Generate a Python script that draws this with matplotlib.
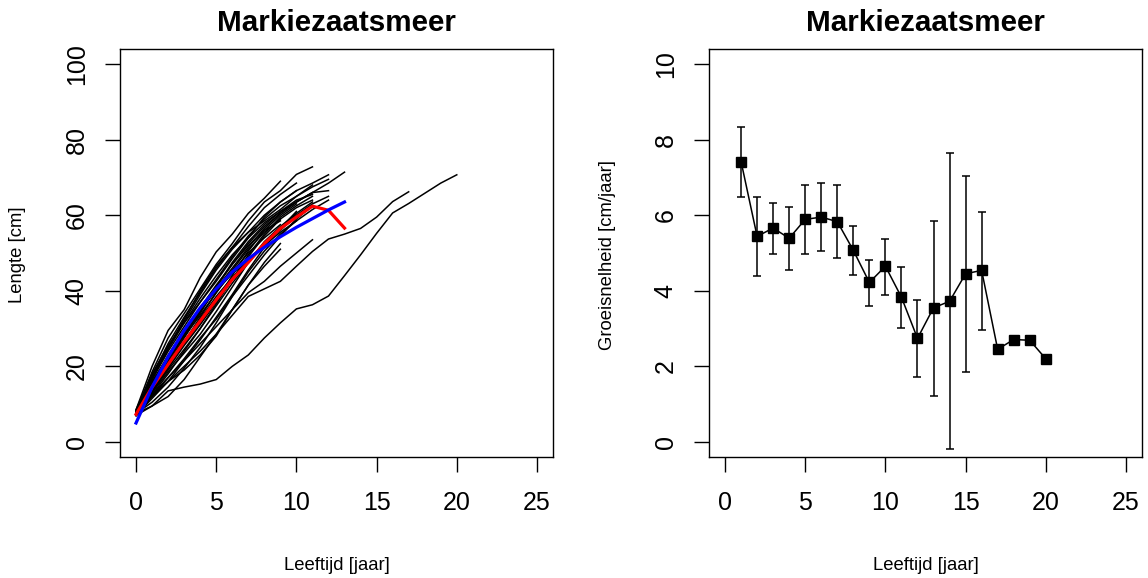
import matplotlib
matplotlib.use("Agg")
import matplotlib.pyplot as plt

plt.rcParams['font.family'] = ['Liberation Sans', 'DejaVu Sans']

# terugberekende lengtes per individu (cm), vanaf leeftijd 0
curves = [
    [8.5, 20.0, 29.5, 35.0, 43.5, 50.3, 55.0, 60.5, 64.5, 69.0],
    [8.0, 18.5, 27.5, 34.0, 40.5, 47.0, 52.5, 58.5, 63.5, 66.5, 70.8, 72.8],
    [7.5, 17.0, 25.0, 32.0, 39.0, 45.5, 51.0, 55.5, 60.0, 63.5, 66.5, 68.5, 70.7],
    [8.0, 16.5, 24.0, 30.5, 37.0, 43.0, 49.0, 54.5, 59.0, 62.5, 65.0, 67.5, 69.5],
    [7.5, 15.0, 22.0, 28.5, 34.5, 40.5, 46.0, 51.5, 56.5, 60.5, 63.5, 66.0, 68.5, 71.4],
    [8.0, 17.5, 26.0, 33.0, 39.5, 46.0, 51.5, 57.0, 62.0, 65.5, 68.5],
    [7.0, 14.5, 21.0, 27.5, 34.0, 41.0, 47.5, 53.0, 57.5, 61.0, 63.5, 66.0, 66.5],
    [7.5, 13.5, 19.5, 25.5, 31.0, 37.0, 43.0, 49.5, 55.0, 59.5, 62.5, 65.0],
    [8.0, 15.5, 23.0, 29.5, 35.5, 41.5, 47.0, 52.5, 57.0, 60.5, 63.5, 66.0],
    [7.0, 12.5, 18.0, 24.0, 30.0, 36.5, 43.0, 49.0, 54.5, 59.0, 62.0, 64.0],
    [7.5, 14.0, 20.5, 26.0, 31.5, 37.5, 44.0, 50.5, 56.0, 60.0, 63.0],
    [8.5, 18.0, 25.5, 31.5, 37.0, 42.5, 48.5, 54.0, 59.5, 63.5, 66.5],
    [7.0, 11.5, 16.0, 21.5, 27.0, 33.0, 39.0, 45.5, 51.5, 56.5, 60.5, 63.5],
    [7.5, 13.0, 18.5, 23.5, 28.5, 34.5, 41.0, 47.5, 53.0, 57.0, 60.5],
    [8.0, 16.0, 22.5, 28.0, 33.5, 39.5, 45.5, 51.0, 55.5, 59.0],
    [7.0, 12.0, 17.0, 22.0, 27.5, 32.5, 38.5, 44.0, 49.5, 54.5, 59.0, 62.5],
    [7.5, 15.5, 22.5, 29.0, 35.0, 40.0, 44.5, 48.5, 52.0, 56.5, 61.0],
    [8.0, 14.0, 20.0, 26.5, 33.0, 39.5, 45.0, 50.0, 54.0, 57.5],
    [7.5, 12.5, 17.0, 21.5, 26.0, 30.5, 35.0, 39.5, 42.5, 46.5, 50.0, 53.5],
    [7.5, 13.5, 19.0, 24.5, 30.0, 36.0, 42.0, 47.5, 52.0, 55.5, 58.5, 61.5, 64.0],
    [8.0, 16.5, 24.5, 31.5, 38.0, 44.0, 49.5, 54.0, 58.0, 61.0, 64.0, 65.5],
    [7.0, 13.0, 19.5, 26.0, 32.5, 38.5, 43.5, 48.0, 52.5, 56.0, 60.0, 63.0, 65.0],
    [8.0, 12.5, 16.0, 19.0, 23.0, 28.0, 35.0, 41.5, 47.5, 52.5],
    [7.5, 10.5, 14.5, 19.5, 25.0, 31.5, 38.5, 45.0, 50.5, 55.0, 58.5],
    [7.0, 9.5, 12.0, 16.5, 22.5, 28.5, 35.0, 41.5, 46.5, 51.0],
    [8.0, 17.0, 25.0, 32.5, 40.0, 46.5, 51.5, 55.5, 58.5, 61.5, 65.0, 68.0],
    [7.5, 14.5, 21.5, 28.0, 34.5, 41.0, 47.0, 52.0, 56.0, 58.5],
    [7.5, 12.0, 16.0, 20.0, 24.0, 28.5, 33.5, 38.5, 40.5, 42.5, 46.5, 50.4,
     53.7, 55.0, 56.5, 59.5, 63.6, 66.2],
    [7.5, 9.5, 13.5, 14.5, 15.3, 16.5, 20.0, 23.0, 27.5, 31.5, 35.2, 36.3,
     38.6, 44.0, 49.5, 55.2, 60.6, 63.1, 65.8, 68.5, 70.7],
]

# gemiddelde lengte per leeftijd (rood) en groeicurve (blauw)
mean_len = [7.3, 14.5, 20.5, 26.5, 32.0, 37.6, 43.0, 47.5, 52.5, 56.5, 59.5, 62.4, 61.3, 56.6]
fit_len = [5.0, 14.5, 22.5, 29.5, 35.5, 40.5, 45.0, 48.5, 51.5, 54.3, 56.8, 59.1, 61.4, 63.5]

# groeisnelheid per leeftijd met spreiding
growth_age = list(range(1, 21))
growth = [7.42, 5.44, 5.66, 5.39, 5.89, 5.95, 5.83, 5.07, 4.22, 4.65,
          3.83, 2.74, 3.55, 3.72, 4.45, 4.54, 2.45, 2.71, 2.69, 2.20]
growth_hi = [8.34, 6.48, 6.33, 6.21, 6.79, 6.85, 6.80, 5.71, 4.81, 5.38,
             4.63, 3.75, 5.86, 7.64, 7.04, 6.09]
growth_lo = [6.48, 4.38, 4.98, 4.54, 4.98, 5.04, 4.88, 4.42, 3.60, 3.88,
             3.02, 1.72, 1.21, -0.19, 1.84, 2.96]

W, H = 1148, 578
fig = plt.figure(figsize=(W / 100, H / 100), dpi=100)
ax1 = fig.add_axes([120 / W, 1 - 457 / H, 433 / W, 408 / H])
ax2 = fig.add_axes([709 / W, 1 - 457 / H, 433 / W, 408 / H])

for c in curves:
    ax1.plot(range(len(c)), c, color='black', lw=1.1)
ax1.plot(range(len(mean_len)), mean_len, color='red', lw=2.3)
ax1.plot(range(len(fit_len)), fit_len, color='blue', lw=2.3)
ax1.set_ylim(-4, 104)
ax1.set_yticks(range(0, 101, 20))

n_err = len(growth_hi)
err = [[g - lo for g, lo in zip(growth[:n_err], growth_lo)],
       [hi - g for g, hi in zip(growth[:n_err], growth_hi)]]
ax2.errorbar(growth_age[:n_err], growth[:n_err], yerr=err, fmt='none',
             ecolor='black', elinewidth=1.1, capsize=3.2, capthick=1.1)
ax2.plot(growth_age, growth, color='black', lw=1.1, marker='s', ms=7.5)
ax2.set_ylim(-0.4, 10.4)
ax2.set_yticks(range(0, 11, 2))

for ax in (ax1, ax2):
    ax.set_xlim(-1, 26)
    ax.set_xticks(range(0, 26, 5))
    for s in ax.spines.values():
        s.set_linewidth(1.0)
    ax.tick_params(direction='out', length=10.5, width=1.0, labelsize=18)
    ax.tick_params(axis='x', pad=14)
    ax.tick_params(axis='y', labelrotation=90, pad=12)
    for lab in ax.get_yticklabels():
        lab.set_verticalalignment('center')

for cx in (336.5, 925.5):
    fig.text(cx / W, 1 - 23 / H, 'Markiezaatsmeer', ha='center', va='center',
             fontsize=21.3, fontweight='bold')
    fig.text(cx / W, 1 - 566 / H, 'Leeftijd [jaar]', ha='center', va='center',
             fontsize=13.3)
fig.text(18 / W, 1 - 255 / H, 'Lengte [cm]', ha='center', va='center',
         rotation=90, fontsize=13.3)
fig.text(608 / W, 1 - 255 / H, 'Groeisnelheid [cm/jaar]', ha='center',
         va='center', rotation=90, fontsize=13.3)

fig.savefig('out.png', dpi=100)
